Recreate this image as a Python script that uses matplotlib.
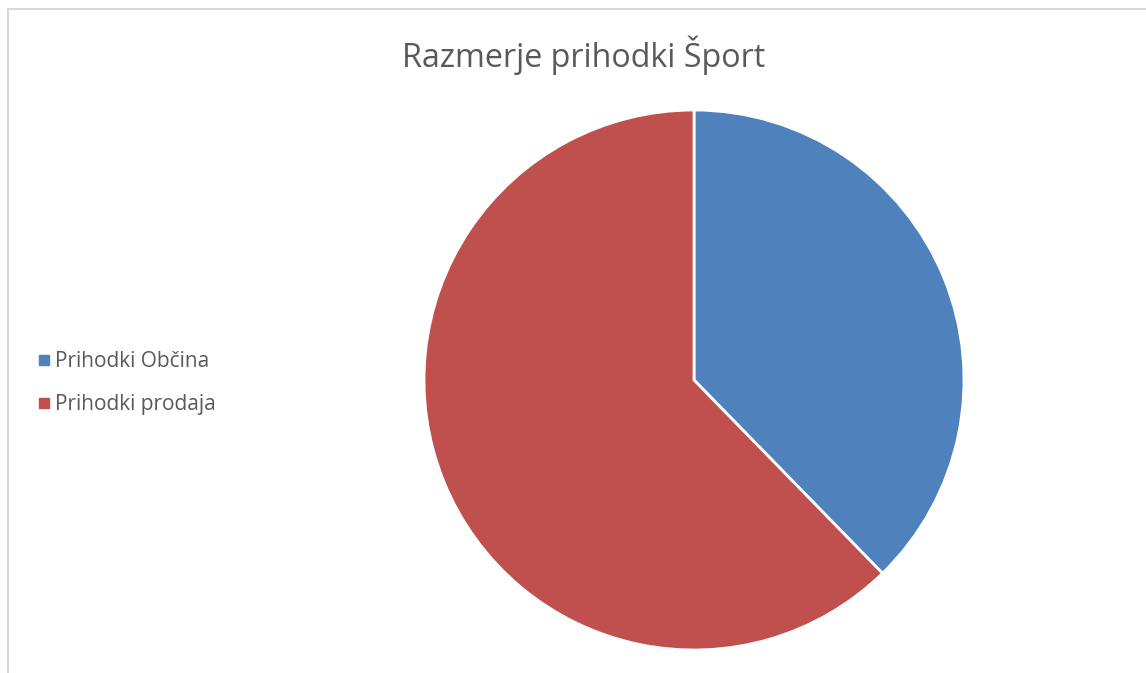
import matplotlib.pyplot as plt
from matplotlib.lines import Line2D
from matplotlib.patches import Rectangle

labels = ['Prihodki Občina', 'Prihodki prodaja']
values = [37.7, 62.3]
colors = ['#4F81BD', '#C0504D']

W, H = 1146, 673
fig = plt.figure(figsize=(W / 100, H / 100), dpi=100)

# chart frame (cropped at right and bottom)
fig.add_artist(Rectangle((8 / W, -0.1), 1.2, 1 - 9 / H + 0.1, transform=fig.transFigure,
                         fill=False, edgecolor='#D9D9D9', linewidth=1.5))

cx, cy, r = 694, 380, 270
ax = fig.add_axes([(cx - r) / W, (H - cy - r) / H, 2 * r / W, 2 * r / H])
ax.pie(values, colors=colors, startangle=90, counterclock=False,
       wedgeprops=dict(edgecolor='white', linewidth=2))
ax.set_xlim(-1, 1)
ax.set_ylim(-1, 1)
ax.set_aspect('equal')
ax.axis('off')

fig.text(584 / W, 1 - 55 / H, 'Razmerje prihodki Šport', ha='center', va='center',
         fontsize=23.2, color='#595959', family='Open Sans')

handles = [Line2D([], [], marker='s', linestyle='none', markersize=7,
                  markerfacecolor=c, markeredgecolor=c) for c in colors]
fig.legend(handles, labels, loc='center left', bbox_to_anchor=(20 / W, 1 - 383 / H),
           frameon=False, handlelength=0.5, handletextpad=0.3, labelspacing=1.05,
           prop={'family': 'Open Sans', 'size': 15}, labelcolor='#595959')

fig.savefig('out.png', dpi=100)
